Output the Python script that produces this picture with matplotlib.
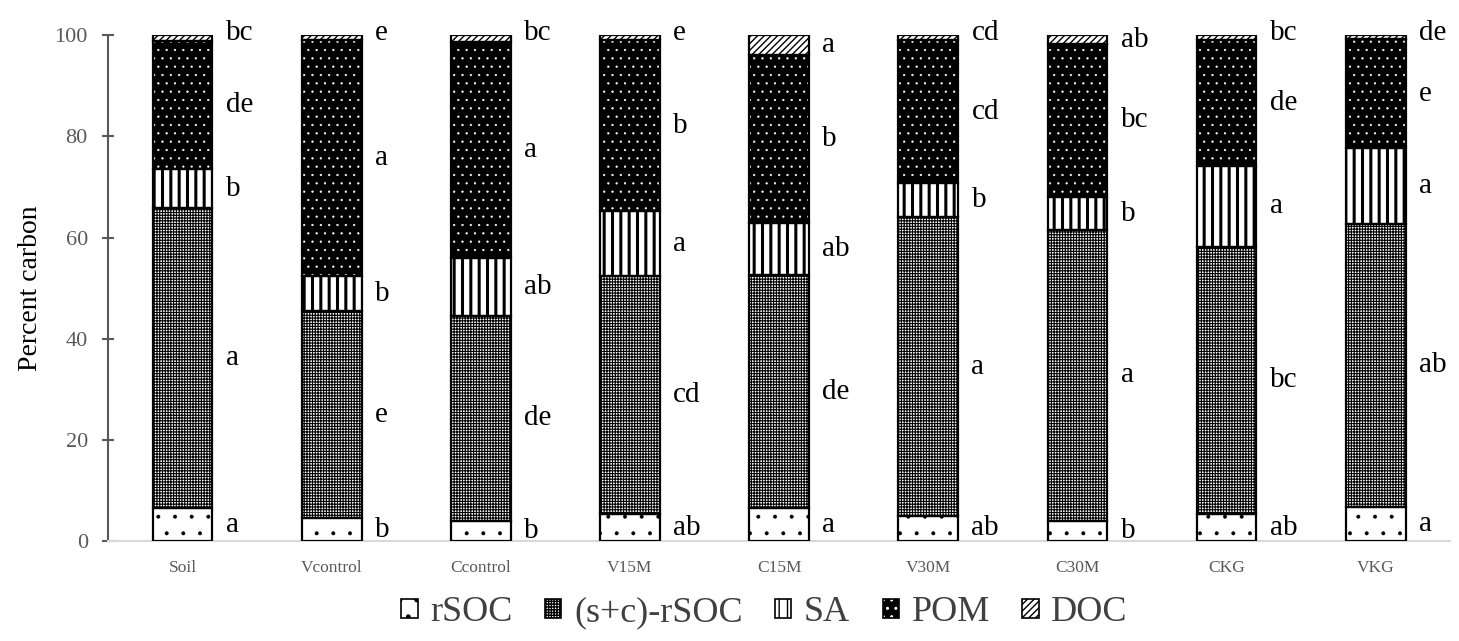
import matplotlib
matplotlib.use("Agg")
import matplotlib.pyplot as plt
from matplotlib.patches import Patch
from matplotlib.legend_handler import HandlerTuple
import numpy as np

categories = ["Soil", "Vcontrol", "Ccontrol", "V15M", "C15M", "V30M", "C30M", "CKG", "VKG"]
series_names = ["rSOC", "(s+c)-rSOC", "SA", "POM", "DOC"]
rSOC = [6.5, 4.5, 4.0, 5.3, 6.5, 5.0, 4.0, 5.3, 6.8]
sc_rSOC = [59.3, 41.0, 40.5, 47.0, 46.0, 59.0, 57.5, 52.9, 55.9]
SA = [7.7, 6.8, 11.5, 13.0, 10.3, 6.8, 6.5, 16.0, 15.0]
POM = [25.3, 46.7, 42.6, 33.7, 33.2, 28.2, 30.3, 24.8, 21.5]
DOC = [1.2, 1.0, 1.4, 1.0, 4.0, 1.0, 1.7, 1.0, 0.8]

letters_rSOC = ["a", "b", "b", "ab", "a", "ab", "b", "ab", "a"]
letters_sc = ["a", "e", "de", "cd", "de", "a", "a", "bc", "ab"]
letters_SA = ["b", "b", "ab", "a", "ab", "b", "b", "a", "a"]
letters_POM = ["de", "a", "a", "b", "b", "cd", "bc", "de", "e"]
letters_DOC = ["bc", "e", "bc", "e", "a", "cd", "ab", "bc", "de"]

series = [rSOC, sc_rSOC, SA, POM, DOC]
letters = [letters_rSOC, letters_sc, letters_SA, letters_POM, letters_DOC]

# styles: (facecolor, hatch colour, hatch, hatch linewidth)
styles = [
    ("white", "black", ".", 0.4),
    ("white", "black", "++++++", 0.8),
    ("white", "black", "||", 2.2),
    ("black", "white", "..", 0.4),
    ("white", "black", "/////", 1.0),
]

plt.rcParams["font.family"] = ["Liberation Serif", "DejaVu Serif"]
plt.rcParams["hatch.linewidth"] = 1.0

fig = plt.figure(figsize=(14.59, 6.41), dpi=100)
ax = fig.add_axes([0.074, 0.156, 0.92, 0.789])

x = np.arange(len(categories))
width = 0.4
bottom = np.zeros(len(categories))
for vals, (fc, hc, hatch, hlw) in zip(series, styles):
    vals = np.array(vals)
    with plt.rc_context({"hatch.linewidth": hlw}):
        bars = ax.bar(x, vals, width, bottom=bottom, color=fc, edgecolor=hc,
                      linewidth=0, hatch=hatch, zorder=2)
        for b in bars:
            try:
                b.set_hatch_linewidth(hlw)
            except Exception:
                pass
    ax.bar(x, vals, width, bottom=bottom, fill=False, edgecolor="black",
           linewidth=1.6, zorder=3)
    bottom = bottom + vals

# significance letters
bottom = np.zeros(len(categories))
for k, (vals, labs) in enumerate(zip(series, letters)):
    vals = np.array(vals)
    for i in range(len(categories)):
        if k == 4 and vals[i] < 1.6:
            y = 100.4
        else:
            y = bottom[i] + vals[i] / 2
        ax.text(x[i] + 0.29, y, labs[i], ha="left", va="center", fontsize=21,
                color="black")
    bottom = bottom + vals

ax.set_xlim(-0.5, len(categories) - 0.5)
ax.set_ylim(0, 100)
ax.set_yticks([0, 20, 40, 60, 80, 100])
ax.set_xticks(x)
ax.set_xticklabels(categories)
ax.tick_params(axis="y", direction="inout", length=9, width=1.5, color="#595959",
               labelsize=16, labelcolor="#595959", pad=10)
ax.tick_params(axis="x", length=0, labelsize=12.5, labelcolor="#595959", pad=14)
for s in ["top", "right"]:
    ax.spines[s].set_visible(False)
ax.spines["left"].set_color("#595959")
ax.spines["left"].set_linewidth(1.5)
ax.spines["bottom"].set_color("#d9d9d9")
ax.spines["bottom"].set_linewidth(1.5)
ax.set_ylabel("Percent carbon", fontsize=20, labelpad=8)

handles = []
for (fc, hc, hatch, hlw) in styles:
    with plt.rc_context({"hatch.linewidth": hlw}):
        p1 = Patch(facecolor=fc, edgecolor=hc, linewidth=0, hatch=hatch)
        try:
            p1.set_hatch_linewidth(hlw)
        except Exception:
            pass
    p2 = Patch(fill=False, edgecolor="black", linewidth=1.2)
    handles.append((p1, p2))

leg = fig.legend(handles, series_names, loc="center", bbox_to_anchor=(0.524, 0.044),
                 ncol=5, frameon=False, fontsize=26, handlelength=0.45, handleheight=0.45,
                 handletextpad=0.35, columnspacing=0.9,
                 handler_map={tuple: HandlerTuple(ndivide=1)})
for t in leg.get_texts():
    t.set_color("#404040")

fig.savefig("out.png", dpi=100)
